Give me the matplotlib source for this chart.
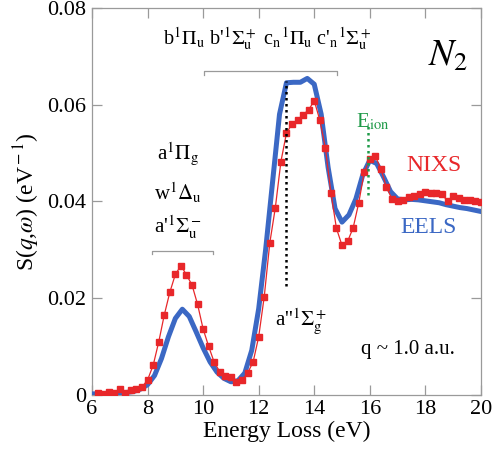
import numpy as np
from matplotlib import pyplot as plt
from matplotlib.ticker import FuncFormatter

plt.rcParams['font.family'] = ['Liberation Serif', 'DejaVu Serif']
plt.rcParams['mathtext.fontset'] = 'stix'

# NIXS data (red squares), 0.2 eV steps
nixs_e = np.round(np.arange(6.2, 20.01, 0.2), 2)
nixs_s = [0.0004, 0.0002, 0.0005, 0.0003, 0.0012, 0.0003, 0.0010, 0.0013, 0.0016,
          0.0031, 0.0061, 0.0109, 0.0165, 0.0212, 0.0249, 0.0267, 0.0248, 0.0227, 0.0187,
          0.0136, 0.0100, 0.0067, 0.0048, 0.0039, 0.0037, 0.0026, 0.0031, 0.0045, 0.0068,
          0.0120, 0.0203, 0.0314, 0.0387, 0.0482, 0.0541, 0.0560, 0.0568, 0.0579, 0.0589,
          0.0608, 0.0568, 0.0511, 0.0418, 0.0344, 0.0309, 0.0317, 0.0345, 0.0396, 0.0460,
          0.0488, 0.0493, 0.0467, 0.0429, 0.0405, 0.0400, 0.0403, 0.0409, 0.0412, 0.0415,
          0.0420, 0.0418, 0.0417, 0.0415, 0.0400, 0.0411, 0.0407, 0.0403, 0.0403, 0.0400,
          0.0398]

# EELS curve (blue), 0.25 eV steps
eels_e = np.arange(6.0, 20.01, 0.25)
eels_s = [0.0002, 0.0002, 0.0002, 0.0003, 0.0004, 0.0005, 0.0007, 0.0012,
          0.0021, 0.0040, 0.0075, 0.0120, 0.0158, 0.0177, 0.0162, 0.0130,
          0.0097, 0.0068, 0.0047, 0.0034, 0.0027, 0.0029, 0.0045, 0.0092,
          0.0178, 0.0300, 0.0440, 0.0580, 0.0645, 0.0646, 0.0646, 0.0654,
          0.0642, 0.0580, 0.0470, 0.0385, 0.0357, 0.0372, 0.0405, 0.0455,
          0.0485, 0.0478, 0.0450, 0.0420, 0.0405, 0.0403, 0.0404, 0.0403,
          0.0401, 0.0399, 0.0397, 0.0393, 0.0390, 0.0387, 0.0385, 0.0382,
          0.0379]

red = '#e8272a'
blue = '#3b68c4'
green = '#1f9a48'
gray = '#9a9a9a'

fig = plt.figure(figsize=(5.03, 4.57), dpi=100)
ax = fig.add_axes([0.183, 0.136, 0.773, 0.847])

ax.plot(eels_e, eels_s, color=blue, lw=3.6, zorder=3, solid_joinstyle='round')
ax.plot(nixs_e, nixs_s, color=red, lw=0.9, marker='s', ms=3.8, mec=red, zorder=4)

# transition markers
ax.plot([13.0, 13.0], [0.0224, 0.0648], ls=(0, (1, 1.4)), color='black', lw=1.8, zorder=5)
ax.plot([15.92, 15.92], [0.0413, 0.0555], ls=(0, (1, 1.4)), color=green, lw=1.8, zorder=5)

# brackets
ax.plot([8.16, 8.16, 10.35, 10.35], [0.0292, 0.0298, 0.0298, 0.0292], color=gray, lw=0.9)
ax.plot([10.04, 10.04, 14.82, 14.82], [0.0662, 0.0669, 0.0669, 0.0662], color=gray, lw=0.9)

fs = 15
ax.text(9.1, 0.0498, r'a$^1\Pi_\mathrm{g}$', fontsize=fs, ha='center', va='center')
ax.text(9.1, 0.0416, r'w$^1\Delta_\mathrm{u}$', fontsize=fs, ha='center', va='center')
ax.text(9.1, 0.0345, r"a'$^1\Sigma^-_\mathrm{u}$", fontsize=fs, ha='center', va='center')
ax.text(12.3, 0.0735,
        r"b$^1\Pi_\mathrm{u}$ b'$^1\Sigma^+_\mathrm{u}$ c$_\mathrm{n}$$^1\Pi_\mathrm{u}$ "
        r"c'$_\mathrm{n}$$^1\Sigma^+_\mathrm{u}$",
        fontsize=14.5, ha='center', va='center')
ax.text(12.6, 0.0152, r"a''$^1\Sigma^+_\mathrm{g}$", fontsize=fs, ha='left', va='center')
ax.text(15.5, 0.0565, r'E$_\mathrm{ion}$', fontsize=fs, color=green, ha='left', va='center')
ax.text(17.3, 0.0475, 'NIXS', fontsize=17, color=red, ha='left', va='center')
ax.text(17.1, 0.0345, 'EELS', fontsize=17, color=blue, ha='left', va='center')
ax.text(18.1, 0.0700, r'$N_\mathrm{2}$', fontsize=27, ha='left', va='center')
ax.text(15.7, 0.0093, r'q ~ 1.0 a.u.', fontsize=fs, ha='left', va='center')

ax.set_xlim(6, 20)
ax.set_ylim(0, 0.08)
ax.set_xticks(np.arange(6, 21, 2))
ax.set_yticks([0, 0.02, 0.04, 0.06, 0.08])
ax.yaxis.set_major_formatter(FuncFormatter(lambda v, p: '0' if v == 0 else f'{v:.2f}'))
ax.tick_params(direction='in', top=True, right=True, length=7, width=0.9,
               color=gray, labelsize=16, pad=4)
for s in ax.spines.values():
    s.set_color(gray)
    s.set_linewidth(0.9)

ax.set_xlabel('Energy Loss (eV)', fontsize=17, labelpad=1)
ax.set_ylabel(r'S($q$,$\omega$) (eV$^{\rm -1}$)', fontsize=17, labelpad=4)

fig.savefig('out.png', dpi=100)
